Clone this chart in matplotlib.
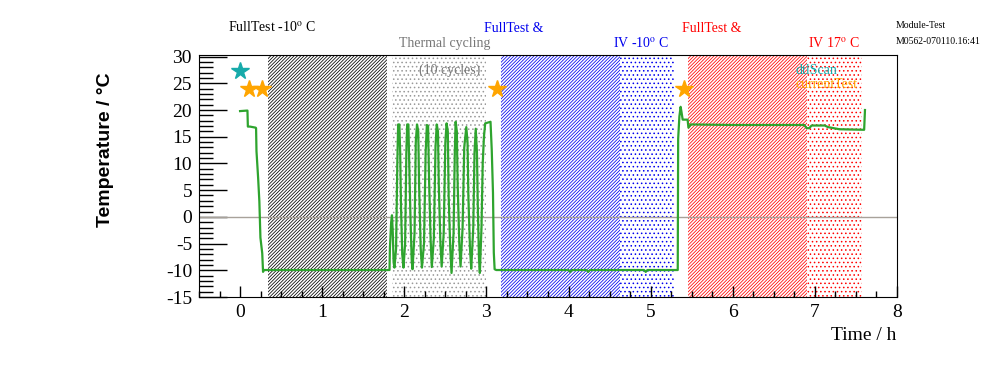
import matplotlib
matplotlib.use("Agg")
import matplotlib.pyplot as plt
from matplotlib.ticker import MultipleLocator

plt.rcParams["mathtext.fontset"] = "stix"
plt.rcParams["axes.unicode_minus"] = False

# temperature log (time in h, temperature in deg C)
time_h = [0.0, 0.09, 0.095, 0.12, 0.19, 0.195, 0.20, 0.22, 0.235, 0.248, 0.27, 0.28, 0.29,
          0.8, 1.2, 1.82, 1.825, 1.84, 1.85, 1.86, 1.87, 1.88,
          1.90, 1.915, 1.925, 1.94, 1.95, 1.96, 1.975, 1.99,
          2.01, 2.025, 2.035, 2.05, 2.06, 2.075, 2.09, 2.10,
          2.125, 2.14, 2.155, 2.17, 2.18, 2.20, 2.215,
          2.24, 2.26, 2.275, 2.29, 2.30, 2.32, 2.335,
          2.36, 2.38, 2.395, 2.41, 2.42, 2.44, 2.455,
          2.48, 2.50, 2.515, 2.53, 2.54, 2.56, 2.575,
          2.60, 2.615, 2.625, 2.64, 2.65, 2.67, 2.685,
          2.71, 2.73, 2.755, 2.77, 2.78, 2.80, 2.815,
          2.84, 2.855, 2.87, 2.885, 2.895, 2.91, 2.92,
          2.94, 2.955, 2.97, 2.985, 3.05, 3.065, 3.08, 3.09, 3.10, 3.12,
          4.0, 4.02, 4.04, 4.22, 4.24, 4.26, 4.92, 4.94, 4.96, 5.33,
          5.335, 5.35, 5.365, 5.375, 5.39, 5.45, 5.46, 5.49,
          6.0, 6.5, 6.87, 6.90, 6.93, 6.96, 7.12, 7.16, 7.30, 7.60, 7.61]
temp_c = [19.8, 19.9, 16.9, 16.9, 16.7, 16.6, 12.3, 7.3, 2.9, -3.9, -6.8, -10.3, -9.95,
          -9.95, -9.95, -9.95, -5.8, -1.0, 0.3, -3.0, -8.5, -9.5,
          -6.0, 10.0, 17.3, 17.3, 12.0, 2.0, -7.0, -9.5,
          -5.0, 12.0, 17.3, 17.3, 10.0, 0.0, -8.0, -9.8,
          -3.0, 14.0, 17.3, 16.0, 6.0, -6.0, -9.5,
          -5.0, 12.0, 17.2, 17.0, 8.0, -4.0, -9.4,
          -4.0, 13.0, 17.3, 16.0, 6.0, -5.0, -9.3,
          -3.0, 14.0, 17.5, 16.0, 4.0, -6.0, -10.5,
          -3.0, 12.0, 17.8, 16.0, 6.0, -5.0, -9.3,
          -2.0, 13.0, 16.8, 14.0, 4.0, -6.0, -9.7,
          -2.0, 12.0, 16.5, 12.0, 2.0, -8.0, -10.5,
          -2.0, 10.0, 15.0, 17.5, 17.8, 12.5, 4.5, -6.7, -9.8, -9.95,
          -9.95, -10.3, -9.95, -9.95, -10.3, -9.95, -9.95, -10.3, -9.95, -9.95,
          14.6, 18.8, 20.6, 19.7, 18.2, 18.2, 16.7, 17.3,
          17.2, 17.2, 17.2, 16.6, 16.6, 17.1, 17.1, 16.8, 16.4, 16.3, 20.0]

# test phases (start, end, colour, hatch)
phase_start = [0.34, 1.85, 3.18, 4.63, 5.46, 6.91]
phase_end = [1.79, 2.99, 4.63, 5.28, 6.91, 7.57]
phase_color = ["black", "#999999", "#0000ee", "#0000ee", "#ff0000", "#ff0000"]
phase_hatch = ["/" * 10, "....", "/" * 10, "....", "/" * 10, "...."]

# test markers
dtl_t, dtl_T = [0.0], [27.3]
cur_t, cur_T = [0.11, 0.27, 3.13, 5.41], [24.0, 24.0, 24.0, 24.0]

fig = plt.figure(figsize=(9.96, 3.72), dpi=100)
ax = fig.add_axes([199 / 996, 1 - 297 / 372, 698 / 996, 242 / 372])

for s, e, c, h in zip(phase_start, phase_end, phase_color, phase_hatch):
    hlw = 0.55 if "/" in h else 0.6
    with plt.rc_context({"hatch.linewidth": hlw}):
        span = ax.axvspan(s, e, facecolor="none", edgecolor=c, hatch=h, linewidth=0, zorder=1)
    if hasattr(span, "set_hatch_linewidth"):
        span.set_hatch_linewidth(hlw)

ax.axhline(0, color="#a8a29a", lw=1, zorder=2)
ax.plot(time_h, temp_c, color="#2ea42e", lw=1.6, zorder=3)
ax.plot(dtl_t, dtl_T, ls="none", marker="*", ms=13, color="#17aaaa", zorder=4)
ax.plot(cur_t, cur_T, ls="none", marker="*", ms=13, color="#ffa500", zorder=4)

ax.set_xlim(-0.5, 8)
ax.set_ylim(-15, 30.3)
ax.xaxis.set_major_locator(MultipleLocator(1))
ax.xaxis.set_minor_locator(MultipleLocator(0.25))
ax.yaxis.set_major_locator(MultipleLocator(5))
ax.yaxis.set_minor_locator(MultipleLocator(1))
ax.tick_params(axis="x", which="major", direction="in", length=8, width=1, pad=5)
ax.tick_params(axis="x", which="minor", direction="in", length=4, width=1)
ax.tick_params(axis="y", which="major", direction="in", length=20, width=1, pad=5)
ax.tick_params(axis="y", which="minor", direction="in", length=10, width=1)
for lab in ax.get_xticklabels() + ax.get_yticklabels():
    lab.set_fontfamily("Liberation Serif")
    lab.set_fontsize(14)

fig.text(105 / 996, 1 - 150 / 372, "Temperature / °C", rotation=90, ha="center", va="center",
         fontsize=14, fontweight="bold", family="Liberation Sans")
fig.text(896 / 996, 1 - 335 / 372, "Time / h", ha="right", va="center",
         fontsize=14, family="Liberation Serif")

serif = "Liberation Serif"
deg = r"$^\mathrm{o}$"
fig.text(228 / 996, 1 - 27 / 372, "FullTest -10" + deg + " C", ha="left", va="center", fontsize=10, family=serif)
fig.text(399 / 996, 1 - 44 / 372, "Thermal cycling", ha="left", va="center", fontsize=10, family=serif, color="#777777")
fig.text(484 / 996, 1 - 28 / 372, "FullTest &", ha="left", va="center", fontsize=10, family=serif, color="#0000ee")
fig.text(613 / 996, 1 - 43 / 372, "IV -10" + deg + " C", ha="left", va="center", fontsize=10, family=serif, color="#0000ee")
fig.text(682 / 996, 1 - 28 / 372, "FullTest &", ha="left", va="center", fontsize=10, family=serif, color="#ff0000")
fig.text(808 / 996, 1 - 43 / 372, "IV 17" + deg + " C", ha="left", va="center", fontsize=10, family=serif, color="#ff0000")
fig.text(896 / 996, 1 - 26 / 372, "Module-Test", ha="left", va="center", fontsize=7, family=serif)
fig.text(896 / 996, 1 - 41 / 372, "M0562-070110.16:41", ha="left", va="center", fontsize=7, family=serif)
fig.text(419 / 996, 1 - 70 / 372, "(10 cycles)", ha="left", va="center", fontsize=10, family=serif, color="#777777")
fig.text(796 / 996, 1 - 70 / 372, "dtlScan", ha="left", va="center", fontsize=10, family=serif, color="#17aaaa")
fig.text(796 / 996, 1 - 85 / 372, "currentTest", ha="left", va="center", fontsize=10, family=serif, color="#ffa500")

fig.savefig("out.png", dpi=100)
